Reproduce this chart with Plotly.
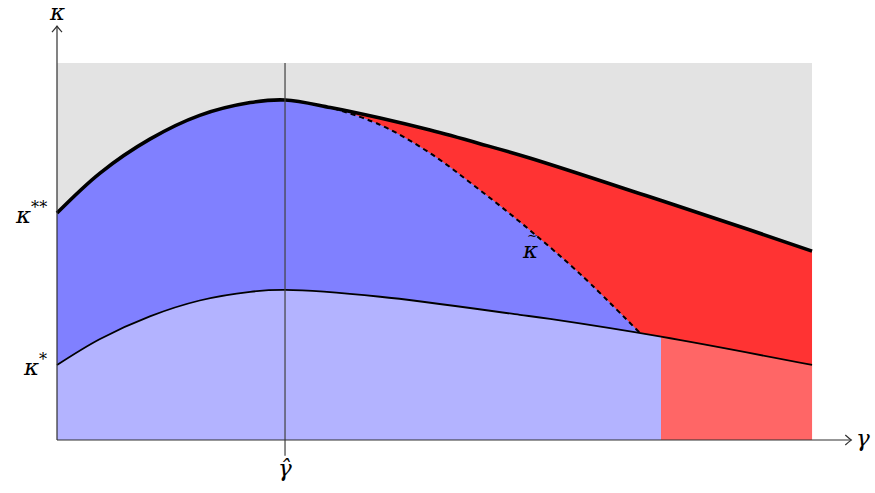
import plotly.graph_objects as go

# ---- data ----
gamma_upper = [0.0, 0.57, 1.23, 1.89, 2.56, 3.02, 3.62, 4.28, 4.94, 5.60, 6.26, 7.85, 9.18, 10.0]
kappa_upper = [6.02, 7.08, 7.98, 8.61, 8.95, 9.02, 8.82, 8.54, 8.22, 7.86, 7.48, 6.45, 5.57, 5.01]

gamma_lower = [0.0, 0.57, 1.23, 1.89, 2.56, 3.02, 4.28, 6.13, 6.53, 8.0, 10.0]
kappa_lower = [1.99, 2.68, 3.28, 3.70, 3.93, 3.98, 3.80, 3.32, 3.21, 2.74, 1.99]

gamma_tilde = [3.66, 4.28, 4.94, 5.60, 6.26, 6.93, 7.72]
kappa_tilde = [8.80, 8.36, 7.61, 6.63, 5.57, 4.40, 2.84]

gamma_hat = 3.02
gamma_split = 8.0
gamma_max = 10.0
kappa_max = 10.0
kappa_star = 1.99
kappa_2star = 6.02

# ---- colours ----
GRAY = "#e3e3e3"
BLUE = "#8080ff"
LBLUE = "#b3b3ff"
RED = "#ff3333"
LRED = "#ff6666"

SM = 1.0

fig = go.Figure()

# red: everything under the upper curve
fig.add_trace(go.Scatter(x=gamma_upper, y=kappa_upper, mode="lines",
                         line=dict(width=0, shape="spline", smoothing=SM),
                         fill="tozeroy", fillcolor=RED, hoverinfo="skip"))

# blue: under upper curve until tilde, then under tilde
bx = [g for g in gamma_upper if g < 3.5] + gamma_tilde
by = [k for g, k in zip(gamma_upper, kappa_upper) if g < 3.5] + kappa_tilde
fig.add_trace(go.Scatter(x=bx, y=by, mode="lines",
                         line=dict(width=0, shape="spline", smoothing=SM),
                         fill="tozeroy", fillcolor=BLUE, hoverinfo="skip"))

# light blue / light red under the lower curve
idx = gamma_lower.index(gamma_split)
fig.add_trace(go.Scatter(x=gamma_lower[:idx + 1], y=kappa_lower[:idx + 1], mode="lines",
                         line=dict(width=0, shape="spline", smoothing=SM),
                         fill="tozeroy", fillcolor=LBLUE, hoverinfo="skip"))
fig.add_trace(go.Scatter(x=gamma_lower[idx:], y=kappa_lower[idx:], mode="lines",
                         line=dict(width=0, shape="spline", smoothing=SM),
                         fill="tozeroy", fillcolor=LRED, hoverinfo="skip"))

# curves
fig.add_trace(go.Scatter(x=gamma_lower, y=kappa_lower, mode="lines",
                         line=dict(color="black", width=1.8, shape="spline", smoothing=SM),
                         hoverinfo="skip"))
fig.add_trace(go.Scatter(x=gamma_tilde, y=kappa_tilde, mode="lines",
                         line=dict(color="black", width=2, dash="5px,4px", shape="spline", smoothing=SM),
                         hoverinfo="skip"))
fig.add_trace(go.Scatter(x=gamma_upper, y=kappa_upper, mode="lines",
                         line=dict(color="black", width=3.6, shape="spline", smoothing=SM),
                         hoverinfo="skip"))

shapes = []
# gray background rectangle
shapes.append(dict(type="rect", x0=0, x1=gamma_max, y0=0, y1=kappa_max,
                   fillcolor=GRAY, line=dict(width=0), layer="below"))
# vertical line at gamma hat
shapes.append(dict(type="line", x0=gamma_hat, x1=gamma_hat, y0=-0.42, y1=kappa_max,
                   line=dict(color="#404040", width=1.2)))
# axes
AX = "#303030"
x_tip = 10.52
y_tip = 10.98
shapes.append(dict(type="line", x0=0, x1=x_tip, y0=0, y1=0, line=dict(color=AX, width=1.2)))
shapes.append(dict(type="line", x0=0, x1=0, y0=0, y1=y_tip, line=dict(color=AX, width=1.2)))
# arrow heads
dxh, dyh = 6 / 75.5, 5 / 37.7
shapes.append(dict(type="path",
                   path=f"M {x_tip - dxh},{dyh} Q {x_tip - dxh*0.3},{dyh*0.25} {x_tip},0 Q {x_tip - dxh*0.3},{-dyh*0.25} {x_tip - dxh},{-dyh}",
                   line=dict(color=AX, width=1.2)))
dxv, dyv = 5 / 75.5, 6 / 37.7
shapes.append(dict(type="path",
                   path=f"M {-dxv},{y_tip - dyv} Q {-dxv*0.25},{y_tip - dyv*0.3} 0,{y_tip} Q {dxv*0.25},{y_tip - dyv*0.3} {dxv},{y_tip - dyv}",
                   line=dict(color=AX, width=1.2)))

FONT = "DejaVu Serif"
ann = []
def label(x, y, text, xanchor="center", size=23):
    ann.append(dict(x=x, y=y, text=text, showarrow=False, xanchor=xanchor, yanchor="middle",
                    font=dict(family=FONT, size=size, color="black")))

label(0, 11.35, "<i>κ</i>")
label(-0.11, kappa_2star, "<i>κ</i><sup>**</sup>", xanchor="right")
label(-0.11, kappa_star, "<i>κ</i><sup>*</sup>", xanchor="right")
label(10.68, 0.05, "<i>γ</i>")
label(gamma_hat, -0.75, "<i>γ̂</i>")
label(6.27, 5.05, "<i>κ</i>")
label(6.30, 5.42, "∼", size=13)

fig.update_layout(
    width=875, height=493,
    margin=dict(l=0, r=0, t=0, b=0),
    paper_bgcolor="white", plot_bgcolor="white",
    showlegend=False,
    xaxis=dict(range=[-0.755, 10.834], visible=False, fixedrange=True),
    yaxis=dict(range=[-1.406, 11.671], visible=False, fixedrange=True),
    shapes=shapes, annotations=ann,
)

fig.write_html("out.html", config={"displayModeBar": False},
               post_script="document.body.style.margin='0';document.body.style.overflow='hidden';")
